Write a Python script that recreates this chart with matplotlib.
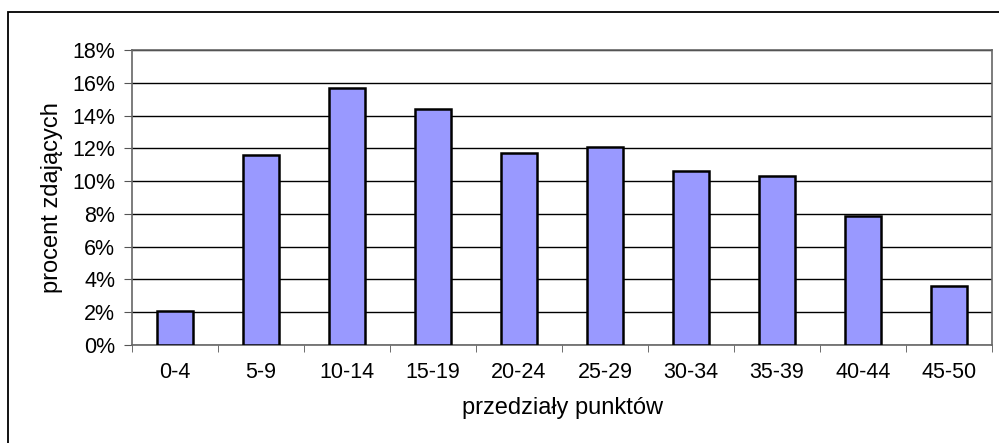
import matplotlib.pyplot as plt
from matplotlib.patches import Rectangle
from matplotlib.ticker import FuncFormatter

plt.rcParams['font.family'] = ['Liberation Sans', 'DejaVu Sans']

categories = ['0-4', '5-9', '10-14', '15-19', '20-24', '25-29',
              '30-34', '35-39', '40-44', '45-50']
percent = [2.1, 11.6, 15.7, 14.4, 11.7, 12.1, 10.6, 10.3, 7.9, 3.6]

W, H = 999, 443
fig = plt.figure(figsize=(W / 100, H / 100), dpi=100)

# outer chart frame (cut by the image edge at right and bottom)
fig.patches.append(Rectangle((8 / W, -0.1), 1.2, 1 - 12 / H + 0.1,
                             transform=fig.transFigure, fill=False,
                             edgecolor='black', linewidth=1.3))

left, right, top, bottom = 132, 992, 50, 345
ax = fig.add_axes([left / W, 1 - bottom / H, (right - left) / W, (bottom - top) / H])

x = range(len(categories))
ax.bar(x, percent, width=0.42, color='#9999FF', edgecolor='black',
       linewidth=1.8, zorder=3)

ax.set_xlim(-0.5, len(categories) - 0.5)
ax.set_ylim(0, 18)
ax.set_yticks(range(0, 19, 2))
ax.yaxis.set_major_formatter(FuncFormatter(lambda v, p: f'{v:.0f}%'))
ax.grid(axis='y', color='black', linewidth=1, zorder=0)

fs = 15.5
ax.set_xticks(list(x))
ax.set_xticklabels(categories)
ax.set_xticks([i + 0.5 for i in range(-1, len(categories))], minor=True)
ax.tick_params(axis='x', which='major', length=0, pad=12, labelsize=fs)
ax.tick_params(axis='x', which='minor', length=5, color='#555555', direction='out')
ax.tick_params(axis='y', length=6, color='#555555', labelsize=fs, pad=6)

for s in ['top', 'right', 'left', 'bottom']:
    ax.spines[s].set_color('#666666')
    ax.spines[s].set_linewidth(1.2)

ax.set_xlabel('przedziały punktów', fontsize=17, labelpad=10)
ax.set_ylabel('procent zdających', fontsize=17, labelpad=7)

fig.savefig('out.png', dpi=100)
